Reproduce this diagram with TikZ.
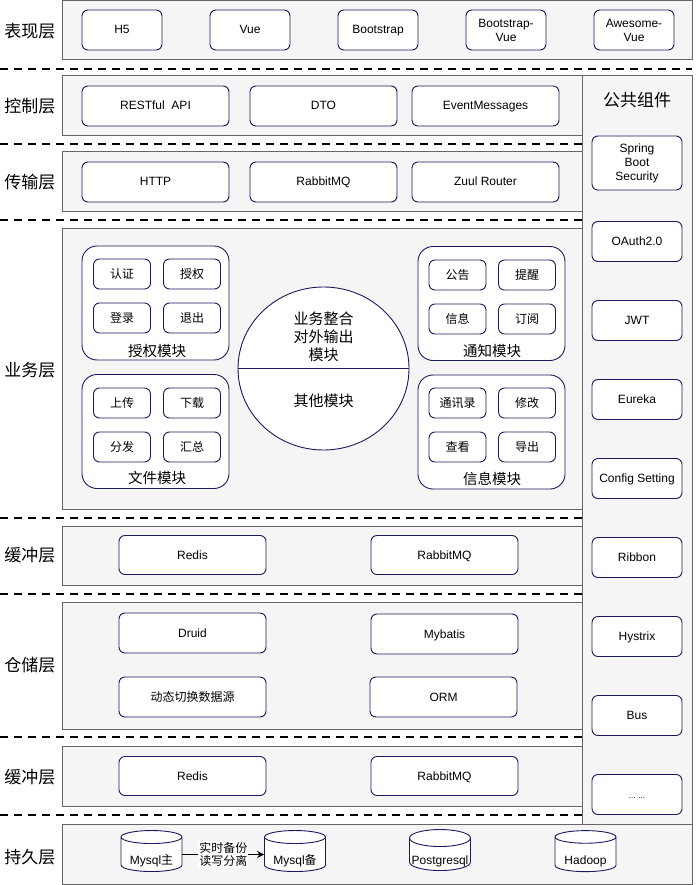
\documentclass[tikz,border=0pt]{standalone}
\usepackage{fontspec}
\setmainfont{Liberation Sans}
\newfontfamily\cjk{Noto Sans CJK SC}
\usetikzlibrary{shapes.geometric,arrows.meta}
\definecolor{layfill}{RGB}{245,245,245}
\definecolor{layline}{RGB}{102,102,102}
\definecolor{itemline}{RGB}{26,26,94}

\tikzset{
  layer/.style={draw=layline, fill=layfill, line width=1pt},
  sep/.style={line width=2pt, dash pattern=on 8pt off 6pt},
  itembox/.style={draw=itemline, fill=white, rounded corners=6pt, line width=0.9pt, align=center, inner sep=0pt, font=\fontsize{12}{14}\selectfont},
  item/.style={itembox, text height=11pt, text depth=3pt},
  small/.style={item, minimum width=57, minimum height=30, font=\cjk\fontsize{12}{14}\selectfont},
  group/.style={draw=itemline, fill=white, rounded corners=15pt, line width=0.9pt, minimum width=147, minimum height=114},
  tag/.style={font=\cjk\fontsize{17}{20}\selectfont},
  grouptag/.style={font=\cjk\fontsize{14.5}{16}\selectfont},
  db/.style={cylinder, shape border rotate=90, aspect=0.3, draw=itemline, fill=white, line width=0.9pt, minimum width=61, minimum height=41, inner sep=0pt, font=\fontsize{12}{14}\selectfont}
}
\newcommand{\dbtext}[1]{\raisebox{-10pt}[0pt][0pt]{#1}}

\begin{document}
\begin{tikzpicture}[x=1pt,y=-1pt]
    \useasboundingbox (0,0) rectangle (696,885);

    % layer backgrounds
    \draw[layer] (62,1) rectangle (692,60);
    \draw[layer] (582,76) rectangle (692,824);
    \draw[layer] (62,76) rectangle (582,136);
    \draw[layer] (62,152) rectangle (582,212);
    \draw[layer] (62,229) rectangle (582,509);
    \draw[layer] (62,526) rectangle (582,585);
    \draw[layer] (62,602) rectangle (582,729);
    \draw[layer] (62,746) rectangle (582,806);
    \draw[layer] (62,824) rectangle (692,884);

    \draw[sep] (0,69) -- (692,69);
    \foreach \y in {144,220,518,594,737,815}
        \draw[sep] (0,\y) -- (582,\y);

    % layer names
    \foreach \y/\t [count=\i] in {31/表现层,106/控制层,182/传输层,370/业务层,555/缓冲层,665/仓储层,777/缓冲层,857/持久层}
        \node[tag] (layer\i) at (30,\y) {\t};

    % view
    \foreach \x/\t [count=\i] in {122/H5,250/Vue,378/Bootstrap}
        \node[item, minimum width=80, minimum height=40] (view\i) at (\x,30) {\t};
    \node[itembox, minimum width=80, minimum height=40] (view4) at (506,30) {Bootstrap-\\Vue};
    \node[itembox, minimum width=80, minimum height=40] (view5) at (634,30) {Awesome-\\Vue};

    % control and transport
    \foreach \x/\t [count=\i] in {155.5/RESTful~ API,323.5/DTO,485.5/EventMessages}
        \node[item, minimum width=147, minimum height=40] (ctrl\i) at (\x,106) {\t};
    \foreach \x/\t [count=\i] in {155.5/HTTP,323.5/RabbitMQ,485.5/Zuul Router}
        \node[item, minimum width=147, minimum height=40] (trans\i) at (\x,182) {\t};

    % common components
    \node[tag] (common) at (637,100) {公共组件};
    \node[itembox, minimum width=90, minimum height=54] (spring) at (637,163) {Spring\\Boot\\Security};
    \foreach \t [count=\i] in {OAuth2.0,JWT,Eureka,Config Setting,Ribbon,Hystrix,Bus}
        \node[item, minimum width=90, minimum height=40] (comp\i) at (637,{241.5+79*(\i-1)}) {\t};
    \node[item, minimum width=90, minimum height=40, font=\fontsize{8}{9}\selectfont] (more) at (637,794.5) {... ...};

    % business modules
    \node[group] (auth) at (155.5,303) {};
    \node[group] (file) at (155.5,431.5) {};
    \node[group] (notice) at (491.5,303.5) {};
    \node[group] (info) at (491.5,432) {};

    \foreach \x/\y/\t [count=\i] in {122/274/认证,192/274/授权,122/318/登录,192/318/退出}
        \node[small] (auth\i) at (\x,\y) {\t};
    \foreach \x/\y/\t [count=\i] in {122/403/上传,192/403/下载,122/447/分发,192/447/汇总}
        \node[small] (file\i) at (\x,\y) {\t};
    \foreach \x/\y/\t [count=\i] in {457.5/275/公告,527/275/提醒,457.5/319/信息,527/319/订阅}
        \node[small] (notice\i) at (\x,\y) {\t};
    \foreach \x/\y/\t [count=\i] in {457.5/403/通讯录,527/403/修改,457.5/447/查看,527/447/导出}
        \node[small] (info\i) at (\x,\y) {\t};

    \node[grouptag] (authtag) at (157,351) {授权模块};
    \node[grouptag] (filetag) at (157,478) {文件模块};
    \node[grouptag] (noticetag) at (492,351) {通知模块};
    \node[grouptag] (infotag) at (492,479) {信息模块};

    \node[ellipse, draw=itemline, fill=white, line width=0.9pt, minimum width=171, minimum height=163] (core) at (323.5,368.5) {};
    \draw[itemline, line width=0.9pt] (core.west) -- (core.east);
    \node[font=\cjk\fontsize{15}{18}\selectfont, align=center] (coreup) at (323.5,337) {业务整合\\对外输出\\模块};
    \node[font=\cjk\fontsize{15}{18}\selectfont] (corelow) at (323.5,401) {其他模块};

    % cache, storage
    \node[item, minimum width=147, minimum height=39] (redis1) at (192.5,555) {Redis};
    \node[item, minimum width=147, minimum height=39] (mq1) at (444.5,555) {RabbitMQ};
    \node[item, minimum width=147, minimum height=40] (druid) at (192.5,633) {Druid};
    \node[item, minimum width=147, minimum height=40] (mybatis) at (444.5,634) {Mybatis};
    \node[item, minimum width=147, minimum height=40] (dynsrc) at (192.5,697) {\cjk 动态切换数据源};
    \node[item, minimum width=147, minimum height=40] (orm) at (443.5,697) {ORM};
    \node[item, minimum width=147, minimum height=39] (redis2) at (192.5,776) {Redis};
    \node[item, minimum width=147, minimum height=39] (mq2) at (444.5,776) {RabbitMQ};

    % persistence
    \node[db] (mysqlm) at (151.5,854.5) {\dbtext{Mysql{\cjk 主}}};
    \node[db] (mysqlb) at (295,854.5) {\dbtext{Mysql{\cjk 备}}};
    \node[db] (pg) at (440,854.5) {\dbtext{Postgresql}};
    \node[db] (hadoop) at (585.5,854.5) {\dbtext{Hadoop}};

    \draw[-{Stealth[length=7pt,width=7pt]}, line width=1.5pt] (mysqlm) -- node[fill=white, inner sep=1pt, align=center, font=\cjk\fontsize{12}{13}\selectfont] (sync) {实时备份\\读写分离} (mysqlb);
\end{tikzpicture}
\end{document}
